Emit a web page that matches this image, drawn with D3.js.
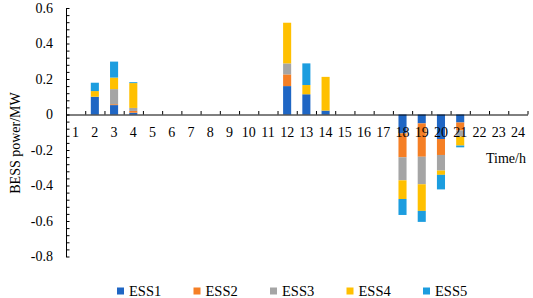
<!DOCTYPE html>
<html lang="en">
<head>
    <title>BESS power</title>
    <meta charset="utf-8"/>
    <script src="https://d3js.org/d3.v7.min.js"></script>
    <style>
        body { margin: 0; background: #fff; }
        svg text { fill: #000; font-family: 'Liberation Serif', serif !important; }
        .domain, .tick line { stroke: #000; stroke-width: 1px; }
    </style>
</head>
<body>
<svg width="533" height="298"></svg>

<script type="text/javascript">

    //categorias (horas) y series
    const horas = ["1", "2", "3", "4", "5", "6", "7", "8", "9", "10", "11", "12",
        "13", "14", "15", "16", "17", "18", "19", "20", "21", "22", "23", "24"];

    const ess1 = [0, 0.100, 0.053, 0.010, 0, 0, 0, 0, 0, 0, 0, 0.160, 0.114, 0.022, 0, 0, 0, -0.106, -0.050, -0.138, -0.045, 0, 0, 0];
    const ess2 = [0, 0, 0.005, 0.010, 0, 0, 0, 0, 0, 0, 0, 0.066, 0, 0, 0, 0, 0, -0.135, -0.188, -0.090, -0.045, 0, 0, 0];
    const ess3 = [0, 0, 0.085, 0.017, 0, 0, 0, 0, 0, 0, 0, 0.062, 0, 0, 0, 0, 0, -0.130, -0.155, -0.088, -0.035, 0, 0, 0];
    const ess4 = [0, 0.032, 0.065, 0.140, 0, 0, 0, 0, 0, 0, 0, 0.229, 0.052, 0.190, 0, 0, 0, -0.105, -0.150, -0.024, -0.050, 0, 0, 0];
    const ess5 = [0, 0.047, 0.090, 0.005, 0, 0, 0, 0, 0, 0, 0, 0, 0.122, 0, 0, 0, 0, -0.090, -0.062, -0.082, -0.010, 0, 0, 0];

    const series = ["ESS1", "ESS2", "ESS3", "ESS4", "ESS5"];
    const colores = ["#1f66c4", "#f57f25", "#a5a5a5", "#ffc000", "#1c9ddf"];

    const yMayores = [-0.8, -0.6, -0.4, -0.2, 0, 0.2, 0.4, 0.6];

    //tabla para d3.stack
    const valores = [ess1, ess2, ess3, ess4, ess5];
    const tabla = horas.map((h, i) => {
        let fila = {hora: h};
        series.forEach((s, j) => fila[s] = valores[j][i]);
        return fila;
    });

    const svg = d3.select("svg");

    //escalas
    const x = d3.scaleBand().domain(horas).range([66, 527.5])
        .paddingInner(0.58).paddingOuter(0.29);
    const xBordes = d3.scaleLinear().domain([0, 24]).range([66, 527.5]);
    const y = d3.scaleLinear().domain([-0.8, 0.6]).range([256.5, 8]);
    const color = d3.scaleOrdinal().domain(series).range(colores);

    //apilado: positivos hacia arriba, negativos hacia abajo
    const pilas = d3.stack().keys(series).offset(d3.stackOffsetDiverging)(tabla);

    svg.append("g")
        .attr("id", "barras")
        .selectAll("g")
        .data(pilas).enter()
        .append("g")
        .attr("fill", d => color(d.key))
        .selectAll("rect")
        .data(d => d).enter()
        .append("rect")
        .attr("x", d => x(d.data.hora))
        .attr("width", x.bandwidth())
        .attr("y", d => y(Math.max(d[0], d[1])))
        .attr("height", d => Math.abs(y(d[0]) - y(d[1])));

    //eje y: marcas menores cada 0.04 hacia adentro
    const yMarcas = d3.range(0, 36).map(i => +(-0.8 + i * 0.04).toFixed(2));
    svg.append("g")
        .attr("id", "yMarcas")
        .attr("transform", "translate(66,0)")
        .call(d3.axisRight(y).tickValues(yMarcas).tickSize(3.5).tickSizeOuter(0).tickFormat(""));

    svg.append("g")
        .attr("id", "yEtiquetas")
        .attr("transform", "translate(66,0)")
        .call(d3.axisLeft(y).tickValues(yMayores).tickSize(0).tickPadding(13)
            .tickFormat(d => d === 0 ? "0" : d.toFixed(1)))
        .call(g => g.select(".domain").remove())
        .attr("font-size", 14);

    //eje x en el cero
    svg.append("g")
        .attr("id", "xMarcas")
        .attr("transform", "translate(0," + y(0) + ")")
        .call(d3.axisTop(xBordes).ticks(24).tickSize(3.5).tickSizeOuter(0).tickFormat(""));

    svg.append("g")
        .attr("id", "xEtiquetas")
        .attr("transform", "translate(0," + y(0) + ")")
        .call(d3.axisBottom(x).tickSize(0).tickPadding(13))
        .call(g => g.select(".domain").remove())
        .attr("font-size", 14);

    //titulos
    svg.append("text")
        .attr("transform", "translate(20,143) rotate(-90)")
        .attr("text-anchor", "middle")
        .attr("font-size", 14)
        .text("BESS power/MW");

    svg.append("text")
        .attr("x", 486)
        .attr("y", 163)
        .attr("font-size", 14)
        .text("Time/h");

    //leyenda
    const leyenda = svg.append("g")
        .attr("id", "leyenda")
        .selectAll("g")
        .data(series).enter()
        .append("g")
        .attr("transform", (d, i) => "translate(" + (117 + i * 76.5) + ",287.5)");

    leyenda.append("rect")
        .attr("width", 7)
        .attr("height", 7)
        .attr("fill", d => color(d));

    leyenda.append("text")
        .attr("x", 12)
        .attr("y", 8.5)
        .attr("font-size", 14.5)
        .text(d => d);

</script>
</body>
</html>
